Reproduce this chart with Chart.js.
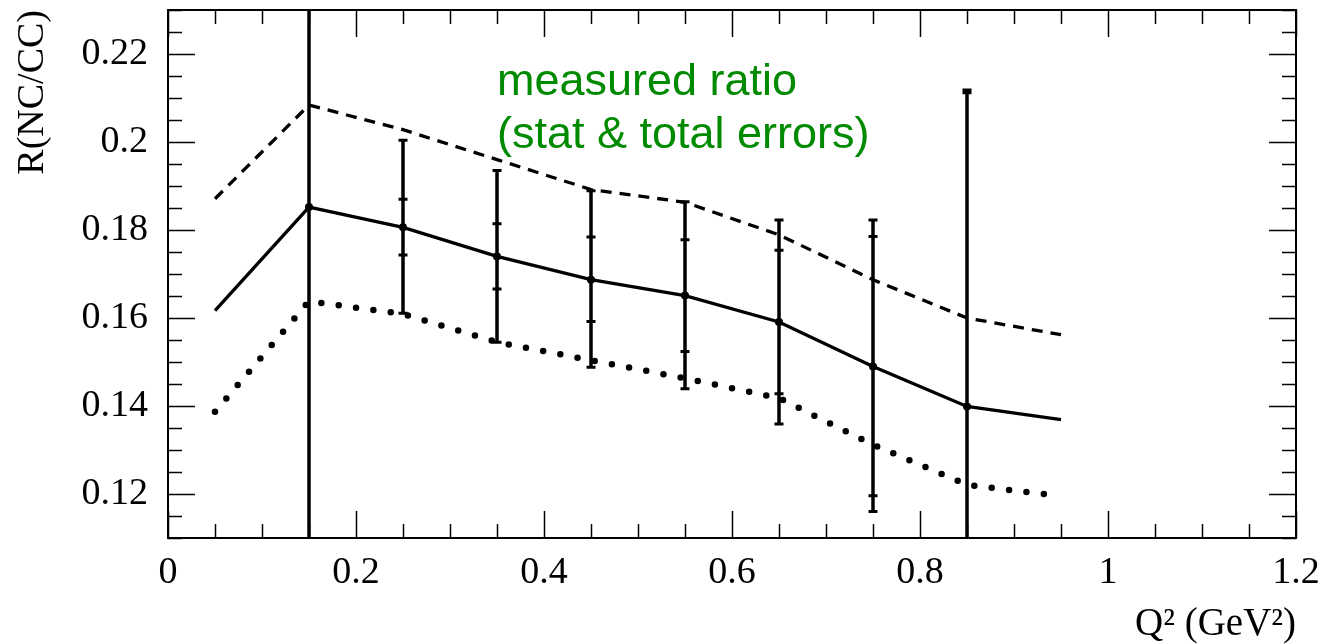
<!DOCTYPE html>
<html>
<head>
<meta charset="utf-8">
<script src="https://cdn.jsdelivr.net/npm/chart.js@4.4.1/dist/chart.umd.min.js"></script>
<style>
  body { margin: 0; background: #fff; }
  canvas { display: block; }
</style>
</head>
<body>
<canvas id="ratioCanvas" width="1333" height="644"></canvas>
<script>
// Q2 bin centres used by the three curves
var q2Curve = [0.05, 0.15, 0.25, 0.35, 0.45, 0.55, 0.65, 0.75, 0.85, 0.95];
var ratioSolid  = [0.1617, 0.1852, 0.1806, 0.1740, 0.1687, 0.1651, 0.1591, 0.1490, 0.1399, 0.1369];
var ratioDashed = [0.1871, 0.2084, 0.2028, 0.1960, 0.1892, 0.1863, 0.1789, 0.1687, 0.1600, 0.1562];
var ratioDotted = [0.1387, 0.1638, 0.1609, 0.1545, 0.1504, 0.1463, 0.1418, 0.1312, 0.1221, 0.1195];

// measured points with stat and total error ranges
var q2Meas   = [0.15, 0.25, 0.35, 0.45, 0.55, 0.65, 0.75, 0.85];
var ratioMeas = [0.1852, 0.1806, 0.1740, 0.1687, 0.1651, 0.1591, 0.1490, 0.1399];
var statLow  = [0.100, 0.1743, 0.1666, 0.1592, 0.1524, 0.1428, 0.1196, 0.100];
var statHigh = [0.240, 0.1870, 0.1814, 0.1784, 0.1778, 0.1754, 0.1785, 0.2112];
var totLow   = [0.080, 0.1611, 0.1545, 0.1488, 0.1439, 0.1359, 0.1160, 0.080];
var totHigh  = [0.260, 0.2004, 0.1935, 0.1889, 0.1864, 0.1823, 0.1823, 0.2118];

// axis ticks
var xTickLabels = [0, 0.2, 0.4, 0.6, 0.8, 1, 1.2];
var yTickLabels = [0.12, 0.14, 0.16, 0.18, 0.2, 0.22];
var xMinorStep = 0.05;
var yMinorStep = 0.005;

var noteLines = ["measured ratio", "(stat & total errors)"];

function pairs(xs, ys) {
    return xs.map(function(x, i) { return {x: x, y: ys[i]}; });
}

// ROOT style frame with ticks pointing inward on all four sides
const frameTicks = {
    id: 'frame_ticks',
    afterDraw: (chart) => {
        const {ctx, chartArea: a, scales} = chart;
        const xs = scales.x, ys = scales.y;
        ctx.save();
        ctx.strokeStyle = '#000';
        ctx.lineWidth = 1.5;
        ctx.beginPath();
        for (let v = xs.min; v <= xs.max + 1e-9; v += xMinorStep) {
            const major = xTickLabels.some(t => Math.abs(t - v) < 1e-6);
            const len = major ? 27 : 14;
            const px = Math.round(xs.getPixelForValue(v)) + 0.5;
            ctx.moveTo(px, a.bottom); ctx.lineTo(px, a.bottom - len);
            ctx.moveTo(px, a.top); ctx.lineTo(px, a.top + len);
        }
        for (let v = ys.min; v <= ys.max + 1e-9; v += yMinorStep) {
            const major = yTickLabels.some(t => Math.abs(t - v) < 1e-6);
            const len = major ? 27 : 14;
            const py = Math.round(ys.getPixelForValue(v)) + 0.5;
            ctx.moveTo(a.left, py); ctx.lineTo(a.left + len, py);
            ctx.moveTo(a.right, py); ctx.lineTo(a.right - len, py);
        }
        ctx.stroke();
        ctx.lineWidth = 2;
        ctx.strokeRect(a.left, a.top, a.right - a.left, a.bottom - a.top);

        // note text
        ctx.fillStyle = '#008a00';
        ctx.font = '45px "Liberation Sans", Arial, sans-serif';
        ctx.textBaseline = 'alphabetic';
        ctx.fillText(noteLines[0], 497, 95);
        ctx.fillText(noteLines[1], 497, 148);
        ctx.restore();
    }
};

// error bars: total range with caps, stat range marked with short ticks
const errorBars = {
    id: 'error_bars',
    afterDatasetsDraw: (chart) => {
        const {ctx, chartArea: a, scales} = chart;
        const xs = scales.x, ys = scales.y;
        ctx.save();
        ctx.beginPath();
        ctx.rect(a.left, a.top, a.right - a.left, a.bottom - a.top);
        ctx.clip();
        ctx.strokeStyle = '#000';
        ctx.lineCap = 'butt';
        q2Meas.forEach(function(q, i) {
            const px = xs.getPixelForValue(q);
            const yTop = ys.getPixelForValue(totHigh[i]);
            const yBot = ys.getPixelForValue(totLow[i]);
            ctx.lineWidth = 3.5;
            ctx.beginPath();
            ctx.moveTo(px, yTop); ctx.lineTo(px, yBot);
            ctx.stroke();
            ctx.lineWidth = 3;
            ctx.beginPath();
            [totHigh[i], totLow[i], statHigh[i], statLow[i]].forEach(function(v) {
                const py = ys.getPixelForValue(v);
                ctx.moveTo(px - 4.5, py); ctx.lineTo(px + 4.5, py);
            });
            ctx.stroke();
        });
        ctx.restore();
    }
};

const serif = '"Liberation Serif", "Times New Roman", serif';

new Chart(document.getElementById("ratioCanvas"), {
    type: 'line',
    plugins: [errorBars, frameTicks],
    data: {
        datasets: [{
            data: pairs(q2Curve, ratioSolid),
            borderColor: '#000',
            borderWidth: 3.3,
            pointRadius: 0,
            tension: 0
        }, {
            data: pairs(q2Curve, ratioDashed),
            borderColor: '#000',
            borderWidth: 3.3,
            borderDash: [11, 8],
            pointRadius: 0,
            tension: 0
        }, {
            data: pairs(q2Curve, ratioDotted),
            borderColor: '#000',
            borderWidth: 6.5,
            borderDash: [0, 17.5],
            borderCapStyle: 'round',
            pointRadius: 0,
            tension: 0
        }, {
            data: pairs(q2Meas, ratioMeas),
            showLine: false,
            pointRadius: 4,
            pointBackgroundColor: '#000',
            pointBorderColor: '#000',
            pointBorderWidth: 0
        }]
    },
    options: {
        responsive: false,
        animation: false,
        layout: { padding: { top: 10, right: 37, left: 0, bottom: 0 } },
        plugins: {
            legend: { display: false },
            tooltip: { enabled: false }
        },
        scales: {
            x: {
                type: 'linear',
                min: 0,
                max: 1.2,
                afterBuildTicks: (scale) => { scale.ticks = xTickLabels.map(v => ({value: v})); },
                afterFit: (scale) => {
                    scale.height = 106;
                    scale.paddingLeft = 0;
                    scale.paddingRight = 0;
                },
                grid: { display: false, drawTicks: false },
                border: { display: false },
                ticks: {
                    autoSkip: false,
                    maxRotation: 0,
                    padding: 12,
                    color: '#000',
                    font: { family: serif, size: 38 },
                    callback: (v) => String(+Number(v).toFixed(3))
                },
                title: {
                    display: true,
                    text: 'Q² (GeV²)',
                    align: 'end',
                    color: '#000',
                    font: { family: serif, size: 39, lineHeight: 1 },
                    padding: { top: 0, bottom: 0 }
                }
            },
            y: {
                type: 'linear',
                min: 0.11,
                max: 0.23,
                afterBuildTicks: (scale) => { scale.ticks = yTickLabels.map(v => ({value: v})); },
                afterFit: (scale) => {
                    scale.width = 168;
                    scale.paddingTop = 0;
                    scale.paddingBottom = 0;
                },
                grid: { display: false, drawTicks: false },
                border: { display: false },
                ticks: {
                    autoSkip: false,
                    padding: 20,
                    color: '#000',
                    font: { family: serif, size: 38 },
                    callback: (v) => String(+Number(v).toFixed(3))
                },
                title: {
                    display: true,
                    text: 'R(NC/CC)',
                    align: 'end',
                    color: '#000',
                    font: { family: serif, size: 38 },
                    padding: { top: 10, bottom: 0 }
                }
            }
        }
    }
});
</script>
</body>
</html>
